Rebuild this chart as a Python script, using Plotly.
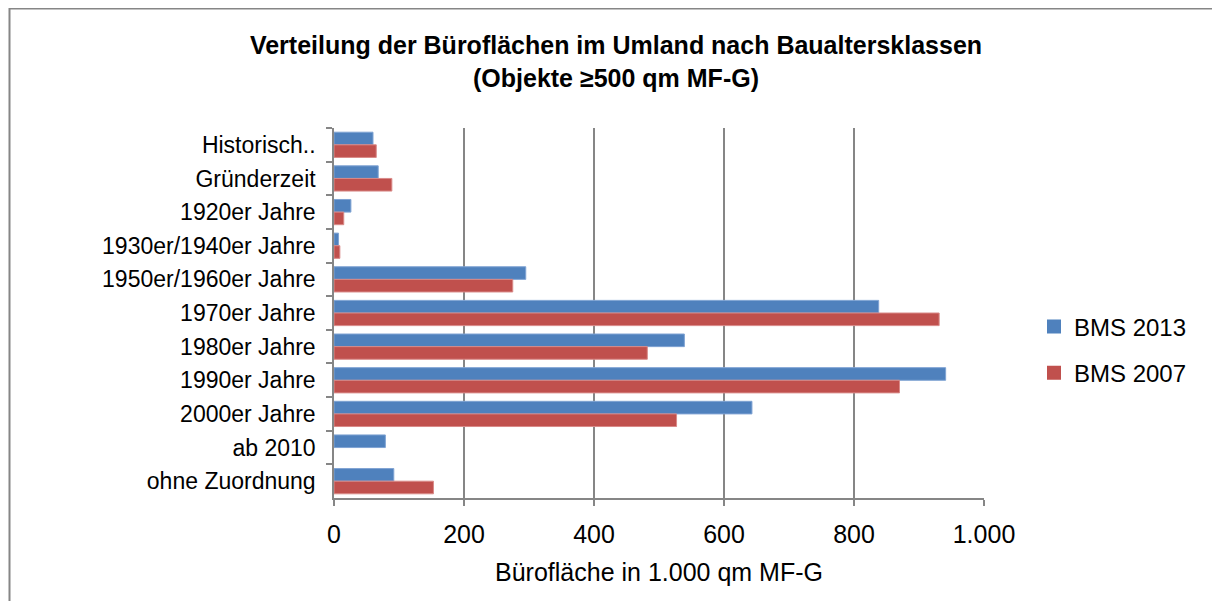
import plotly.graph_objects as go

categories = ["Historisch..", "Gründerzeit", "1920er Jahre", "1930er/1940er Jahre",
              "1950er/1960er Jahre", "1970er Jahre", "1980er Jahre", "1990er Jahre",
              "2000er Jahre", "ab 2010", "ohne Zuordnung"]
bms_2013 = [60, 68, 26, 7, 295, 838, 539, 941, 643, 79, 92]
bms_2007 = [65, 89, 15, 9, 275, 931, 482, 870, 527, 0, 153]
x_ticks = [0, 200, 400, 600, 800, 1000]
x_tick_labels = ["0", "200", "400", "600", "800", "1.000"]

OFF = 8  # page body margin
W, H = 1220 - OFF, 601 - OFF
L, R, T, B = 334 - OFF, 236, 128 - OFF, 103
pw, ph = W - L - R, H - T - B

FONT = "Liberation Sans, Arial, sans-serif"
BLUE, RED = "#4F81BD", "#C0504D"

fig = go.Figure()
for name, vals, col, edge in [("BMS 2013", bms_2013, BLUE, "#7fa3d3"),
                              ("BMS 2007", bms_2007, RED, "#d98a88")]:
    fig.add_trace(go.Bar(y=categories, x=vals, orientation="h", name=name,
                         showlegend=False,
                         marker=dict(color=col,
                                     line=dict(color=edge, width=[0 if v == 0 else 1 for v in vals]))))
for i, (name, col) in enumerate([("BMS 2013", BLUE), ("BMS 2007", RED)]):
    fig.add_trace(go.Scatter(x=[None], y=[None], mode="markers", name=name,
                             legendgroup=str(i),
                             marker=dict(symbol="square", size=14, color=col)))


def px_x(p):
    return (p - OFF - L) / pw


def px_y(p):
    return (H + OFF - B - p) / ph


fig.update_layout(
    width=W, height=H,
    margin=dict(l=L, r=R, t=T, b=B),
    paper_bgcolor="white", plot_bgcolor="white",
    font=dict(family=FONT, color="black", size=22),
    barmode="group", bargap=0.25, bargroupgap=0,
    title=dict(text="<b>Verteilung der Büroflächen im Umland nach Baualtersklassen<br>(Objekte ≥500 qm MF-G)</b>",
               x=(616 - OFF) / W, xanchor="center", y=1 - (54 - OFF) / H, yanchor="middle",
               font=dict(family=FONT, size=25, color="black")),
    xaxis=dict(range=[0, 1000], tickvals=x_ticks, ticktext=x_tick_labels,
               showgrid=True, gridcolor="#868686", gridwidth=1.5,
               showline=True, linecolor="#868686", linewidth=1.5,
               ticks="outside", ticklen=6, tickcolor="#868686", tickwidth=1.5,
               tickfont=dict(size=25), zeroline=False, ticklabelstandoff=7,
               title=dict(text="Bürofläche in 1.000 qm MF-G", font=dict(size=25), standoff=17)),
    yaxis=dict(autorange="reversed", showline=True, linecolor="#868686", linewidth=1.5,
               ticks="outside", ticklen=6, tickcolor="#868686", tickwidth=1.5,
               tickson="boundaries", showgrid=False, tickfont=dict(size=23),
               ticklabelstandoff=12),
    legend=dict(x=px_x(1034), y=px_y(350), xanchor="left", yanchor="middle",
                traceorder="grouped", font=dict(size=24), itemwidth=30,
                tracegroupgap=12),
    showlegend=True,
)

# chart border (top and left edges visible)
fig.add_shape(type="rect", xref="paper", yref="paper",
              x0=px_x(9.5), x1=px_x(1240), y0=px_y(620), y1=px_y(8.5),
              line=dict(color="#868686", width=2), fillcolor="rgba(0,0,0,0)", layer="below")

fig.write_html("out.html")
